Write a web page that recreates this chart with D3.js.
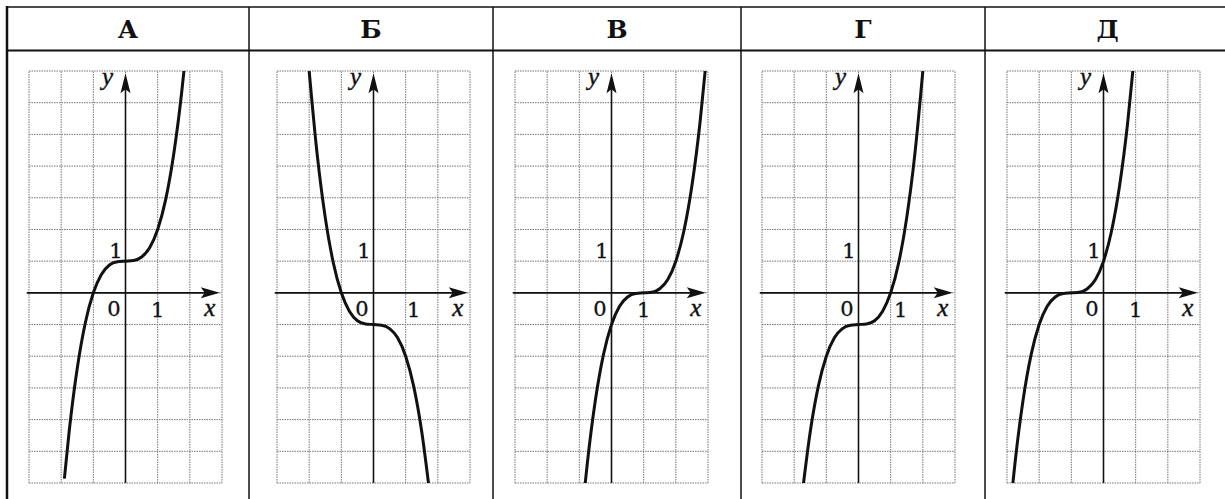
<!DOCTYPE html>
<html>
  <head>
    <meta charset="utf-8" />
    <script src="https://d3js.org/d3.v7.min.js"></script>
    <style>
      body,
      html {
        margin: 0;
        padding: 0;
        background: #fff;
        overflow: hidden;
      }
    </style>
    <title>Cubic graphs</title>
  </head>

  <body>
    <svg id="chart" width="1225" height="499"></svg>

    <script>
      // panel titles
      var panelLabels = ["А", "Б", "В", "Г", "Д"];

      // grid ticks (units)
      var xGrid = [-3, -2, -1, 0, 1, 2, 3];
      var yGrid = [-6, -5, -4, -3, -2, -1, 0, 1, 2, 3, 4, 5, 6, 7];

      // points, [x, y]
      var curveA = [
        [-1.9, -5.86], [-1.75, -4.36], [-1.5, -2.38], [-1.25, -0.95], [-1, 0],
        [-0.75, 0.58], [-0.5, 0.88], [-0.25, 0.98], [0, 1], [0.25, 1.02],
        [0.5, 1.13], [0.75, 1.42], [1, 2], [1.25, 2.95], [1.5, 4.38],
        [1.75, 6.36], [1.82, 7.03],
      ];
      var curveB = [
        [-2, 7], [-1.75, 4.36], [-1.5, 2.38], [-1.25, 0.95], [-1, 0],
        [-0.75, -0.58], [-0.5, -0.88], [-0.25, -0.98], [0, -1], [0.25, -1.02],
        [0.5, -1.13], [0.75, -1.42], [1, -2], [1.25, -2.95], [1.5, -4.38],
        [1.72, -6.09],
      ];
      var curveV = [
        [-0.82, -6.03], [-0.75, -5.36], [-0.5, -3.38], [-0.25, -1.95], [0, -1],
        [0.25, -0.42], [0.5, -0.13], [0.75, -0.02], [1, 0], [1.25, 0.02],
        [1.5, 0.13], [1.75, 0.42], [2, 1], [2.25, 1.95], [2.5, 3.38],
        [2.75, 5.36], [2.92, 7.08],
      ];
      var curveG = [
        [-1.72, -6.09], [-1.5, -4.38], [-1.25, -2.95], [-1, -2], [-0.75, -1.42],
        [-0.5, -1.13], [-0.25, -1.02], [0, -1], [0.25, -0.98], [0.5, -0.88],
        [0.75, -0.58], [1, 0], [1.25, 0.95], [1.5, 2.38], [1.75, 4.36],
        [2, 7],
      ];
      var curveD = [
        [-2.82, -6.03], [-2.75, -5.36], [-2.5, -3.38], [-2.25, -1.95], [-2, -1],
        [-1.75, -0.42], [-1.5, -0.13], [-1.25, -0.02], [-1, 0], [-0.75, 0.02],
        [-0.5, 0.13], [-0.25, 0.42], [0, 1], [0.25, 1.95], [0.5, 3.38],
        [0.75, 5.36], [0.92, 7.08],
      ];
      var curves = [curveA, curveB, curveV, curveG, curveD];

      // layout (pixels)
      var colEdges = [7, 249, 493, 741, 985, 1230];
      var gridLeft = [29, 277, 515, 762, 1007];
      var gridW = 193;
      var gridTop = 71;
      var gridBottom = 483;
      var oneXShift = [0, 8, 0, 10, 0];
      var serif = "'DejaVu Serif', 'Liberation Serif', serif";
      var italic = "'Liberation Serif', 'DejaVu Serif', serif";

      var svg = d3.select("#chart");

      // table frame
      var frame = svg.append("g").attr("stroke", "#111").attr("fill", "none");
      frame.append("line").attr("x1", 6).attr("x2", 1225).attr("y1", 7).attr("y2", 7).attr("stroke-width", 1.5);
      frame.append("line").attr("x1", 6).attr("x2", 1225).attr("y1", 50.5).attr("y2", 50.5).attr("stroke-width", 2);
      frame.append("line").attr("x1", 7).attr("x2", 7).attr("y1", 6).attr("y2", 499).attr("stroke-width", 2.5);
      colEdges.slice(1, 5).forEach(function (cx) {
        frame.append("line").attr("x1", cx).attr("x2", cx).attr("y1", 7).attr("y2", 499).attr("stroke-width", 1.5);
      });

      var defs = svg.append("defs");

      panelLabels.forEach(function (lab, i) {
        var x = d3.scaleLinear().domain([-3, 3]).range([gridLeft[i], gridLeft[i] + gridW]);
        var y = d3.scaleLinear().domain([-6, 7]).range([gridBottom, gridTop]);
        var g = svg.append("g");

        // header letter
        g.append("text")
          .attr("x", (colEdges[i] + colEdges[i + 1]) / 2)
          .attr("y", 38)
          .attr("text-anchor", "middle")
          .attr("font-family", serif)
          .attr("font-weight", "bold")
          .attr("font-size", 25)
          .attr("fill", "#111")
          .text(lab);

        // dotted grid
        var grid = g.append("g")
          .attr("stroke", "#777")
          .attr("stroke-width", 1)
          .attr("stroke-dasharray", "1.5,1");
        grid.selectAll(".gx").data(xGrid).enter().append("line")
          .attr("x1", function (d) { return x(d); })
          .attr("x2", function (d) { return x(d); })
          .attr("y1", y(-6))
          .attr("y2", y(7));
        grid.selectAll(".gy").data(yGrid).enter().append("line")
          .attr("y1", function (d) { return y(d); })
          .attr("y2", function (d) { return y(d); })
          .attr("x1", x(-3))
          .attr("x2", x(3));

        // axes
        var ox = x(0), oy = y(0);
        var xTip = x(2.93), yTip = y(6.93);
        g.append("line").attr("x1", x(-3.07)).attr("x2", xTip - 6).attr("y1", oy).attr("y2", oy)
          .attr("stroke", "#111").attr("stroke-width", 1.6);
        g.append("line").attr("x1", ox).attr("x2", ox).attr("y1", y(-6)).attr("y2", yTip + 6)
          .attr("stroke", "#111").attr("stroke-width", 1.6);
        g.append("path")
          .attr("d", "M" + xTip + "," + oy + "L" + (xTip - 19) + "," + (oy - 5.5) +
            "L" + (xTip - 15) + "," + oy + "L" + (xTip - 19) + "," + (oy + 5.5) + "Z")
          .attr("fill", "#111");
        g.append("path")
          .attr("d", "M" + ox + "," + yTip + "L" + (ox - 5) + "," + (yTip + 20) +
            "L" + ox + "," + (yTip + 16) + "L" + (ox + 5) + "," + (yTip + 20) + "Z")
          .attr("fill", "#111");

        // labels
        var lbl = g.append("g")
          .attr("font-family", serif)
          .attr("font-size", 21)
          .attr("fill", "#111")
          .attr("stroke", "#111")
          .attr("stroke-width", 0.3);
        lbl.append("text").attr("x", ox - 3).attr("y", y(1) - 3).attr("text-anchor", "end").text("1");
        lbl.append("text").attr("x", ox - 5).attr("y", oy + 23).attr("text-anchor", "end").text("0");
        lbl.append("text").attr("x", x(1) + oneXShift[i]).attr("y", oy + 24).attr("text-anchor", "middle").text("1");
        var ital = g.append("g")
          .attr("font-family", italic)
          .attr("font-style", "italic")
          .attr("font-size", 25)
          .attr("fill", "#111")
          .attr("stroke", "#111")
          .attr("stroke-width", 0.4);
        ital.append("text").attr("x", x(2.62)).attr("y", oy + 23).attr("text-anchor", "middle").text("x");
        ital.append("text").attr("x", ox - 18).attr("y", y(6.55)).attr("text-anchor", "middle").text("y");

        // curve
        defs.append("clipPath").attr("id", "clip" + i)
          .append("rect")
          .attr("x", x(-3)).attr("y", y(7))
          .attr("width", gridW).attr("height", gridBottom - gridTop);
        var line = d3.line()
          .x(function (d) { return x(d[0]); })
          .y(function (d) { return y(d[1]); })
          .curve(d3.curveMonotoneX);
        g.append("path")
          .datum(curves[i])
          .attr("clip-path", "url(#clip" + i + ")")
          .attr("d", line)
          .attr("fill", "none")
          .attr("stroke", "#111")
          .attr("stroke-width", 3);
      });
    </script>
  </body>
</html>
